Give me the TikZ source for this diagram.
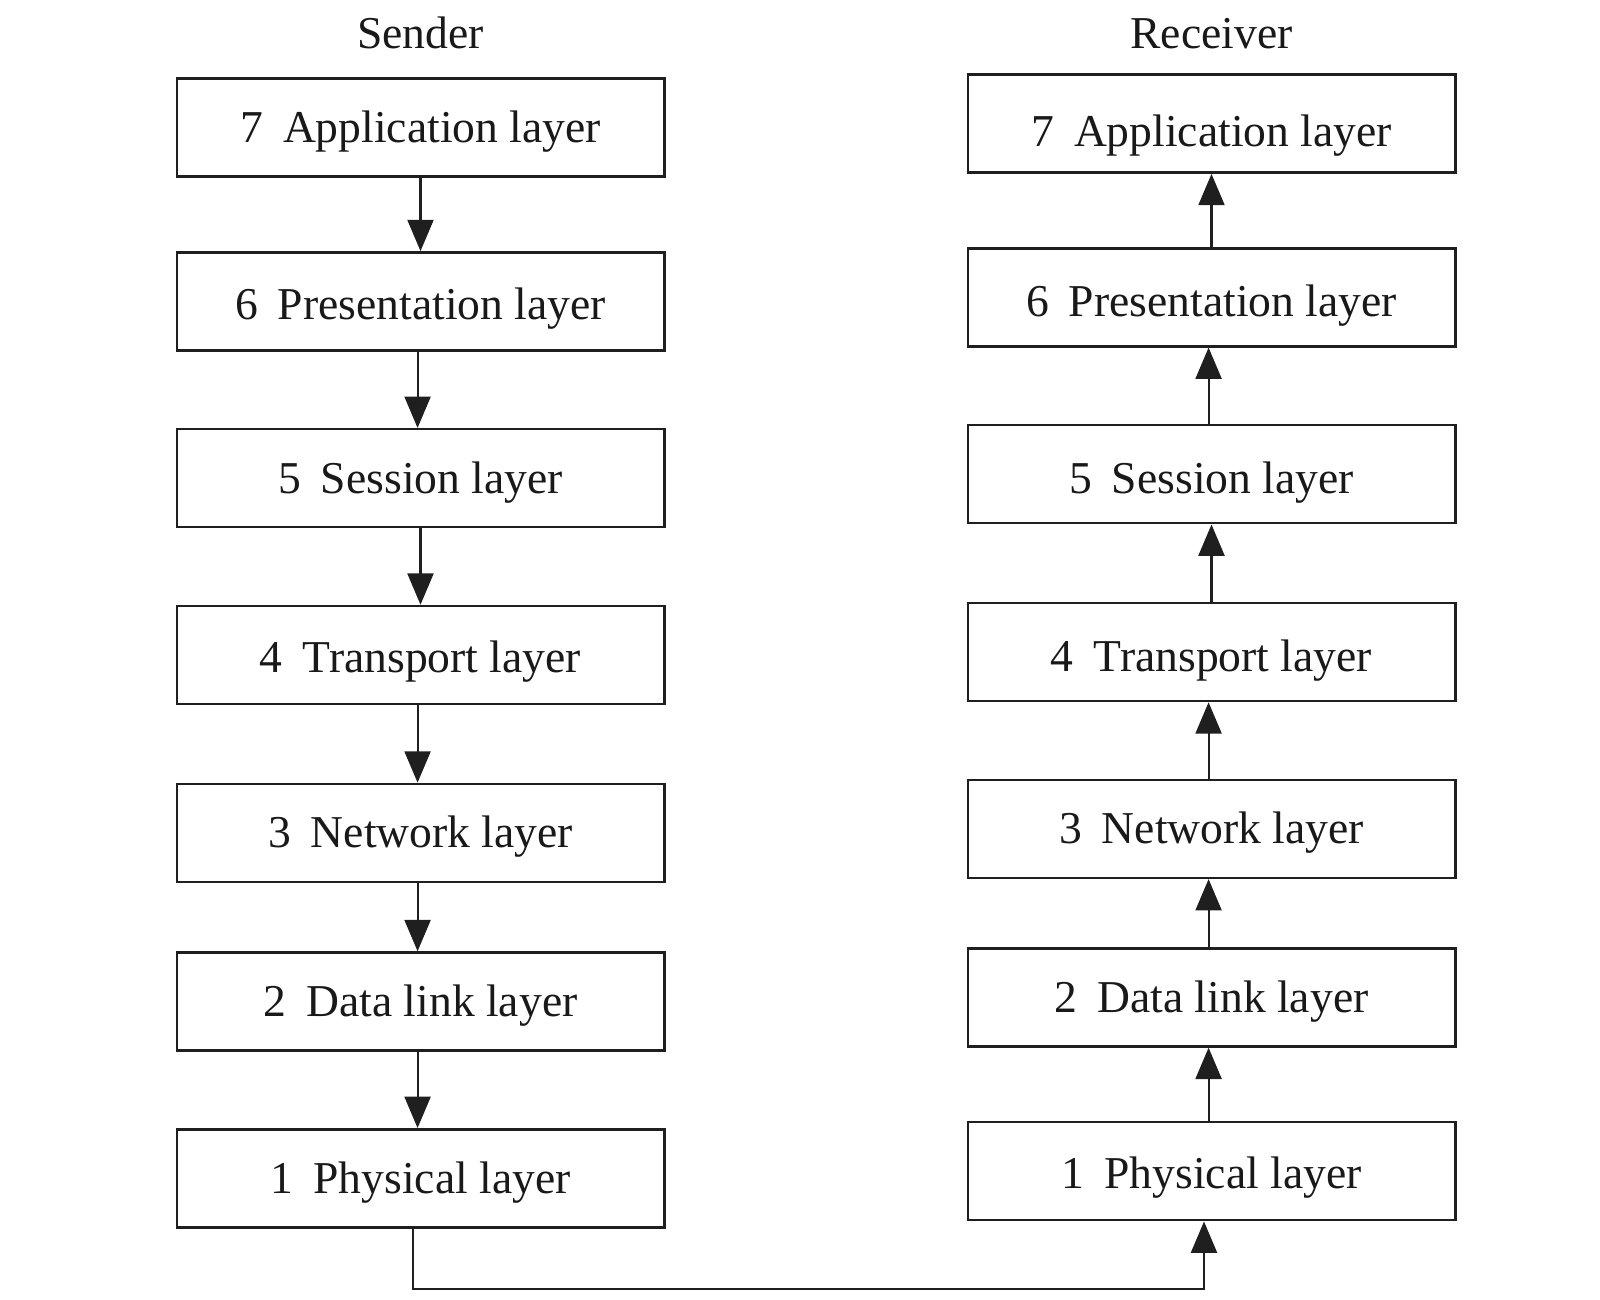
\documentclass[tikz,border=0pt]{standalone}
\usepackage{fontspec}
\setmainfont{Liberation Serif}
\usetikzlibrary{arrows.meta}
\begin{document}
\begin{tikzpicture}[x=0.75pt,y=-0.75pt,
  layerbox/.style={draw=black!88, line width=1.9pt, minimum width=365.6pt,
    minimum height=73.5pt, inner sep=0pt, text height=22.5pt, text depth=0pt,
    font=\fontsize{34.2}{41}\selectfont, text=black!90},
  titletext/.style={inner sep=0pt, text height=22.5pt, text depth=0pt,
    font=\fontsize{34.2}{41}\selectfont, text=black!90},
  flow/.style={draw=black!88, line width=1.6pt, -{Triangle[length=23.5pt,width=19.5pt]}}]
\useasboundingbox (0,0) rectangle (1600,1300);
\newcommand{\lay}[3][0pt]{\raisebox{-#1}{#2\hspace{0.44em}#3}}
% titles
\node[titletext] (snd) at (420.5,33) {Sender};
\node[titletext] (rcv) at (1211.5,33) {Receiver};
% sender column
\node[layerbox] (s7) at (420.5,127.7) {\lay{7}{Application layer}};
\node[layerbox] (s6) at (420.5,301.4) {\lay[2pt]{6}{Presentation layer}};
\node[layerbox] (s5) at (420.5,478.2) {\lay{5}{Session layer}};
\node[layerbox] (s4) at (420.5,655.0) {\lay[2pt]{4}{Transport layer}};
\node[layerbox] (s3) at (420.5,832.9) {\lay{3}{Network layer}};
\node[layerbox] (s2) at (420.5,1001.5) {\lay{2}{Data link layer}};
\node[layerbox] (s1) at (420.5,1178.3) {\lay{1}{Physical layer}};
% receiver column
\node[layerbox] (r7) at (1211.5,123.6) {\lay[6pt]{7}{Application layer}};
\node[layerbox] (r6) at (1211.5,297.3) {\lay[3pt]{6}{Presentation layer}};
\node[layerbox] (r5) at (1211.5,474.2) {\lay[3pt]{5}{Session layer}};
\node[layerbox] (r4) at (1211.5,652.0) {\lay[3pt]{4}{Transport layer}};
\node[layerbox] (r3) at (1211.5,828.8) {\lay{3}{Network layer}};
\node[layerbox] (r2) at (1211.5,997.4) {\lay{2}{Data link layer}};
\node[layerbox] (r1) at (1211.5,1171.2) {\lay[2pt]{1}{Physical layer}};
% sender arrows (down)
\draw[flow] (s7.south) -- (s6.north);
\draw[flow] ([xshift=-2.2pt]s6.south) -- ([xshift=-2.2pt]s5.north);
\draw[flow] (s5.south) -- (s4.north);
\draw[flow] ([xshift=-2.2pt]s4.south) -- ([xshift=-2.2pt]s3.north);
\draw[flow] ([xshift=-2.2pt]s3.south) -- ([xshift=-2.2pt]s2.north);
\draw[flow] ([xshift=-2.2pt]s2.south) -- ([xshift=-2.2pt]s1.north);
% receiver arrows (up)
\draw[flow] (r6.north) -- (r7.south);
\draw[flow] ([xshift=-2.2pt]r5.north) -- ([xshift=-2.2pt]r6.south);
\draw[flow] (r4.north) -- (r5.south);
\draw[flow] ([xshift=-2.2pt]r3.north) -- ([xshift=-2.2pt]r4.south);
\draw[flow] ([xshift=-2.2pt]r2.north) -- ([xshift=-2.2pt]r3.south);
\draw[flow] ([xshift=-2.2pt]r1.north) -- ([xshift=-2.2pt]r2.south);
% physical link
\coordinate (lk1) at (413,1289);
\coordinate (lk2) at (1204,1289);
\draw[flow] (s1.south -| lk1) -- (lk1) -- (lk2) -- (r1.south -| lk2);
\end{tikzpicture}
\end{document}
